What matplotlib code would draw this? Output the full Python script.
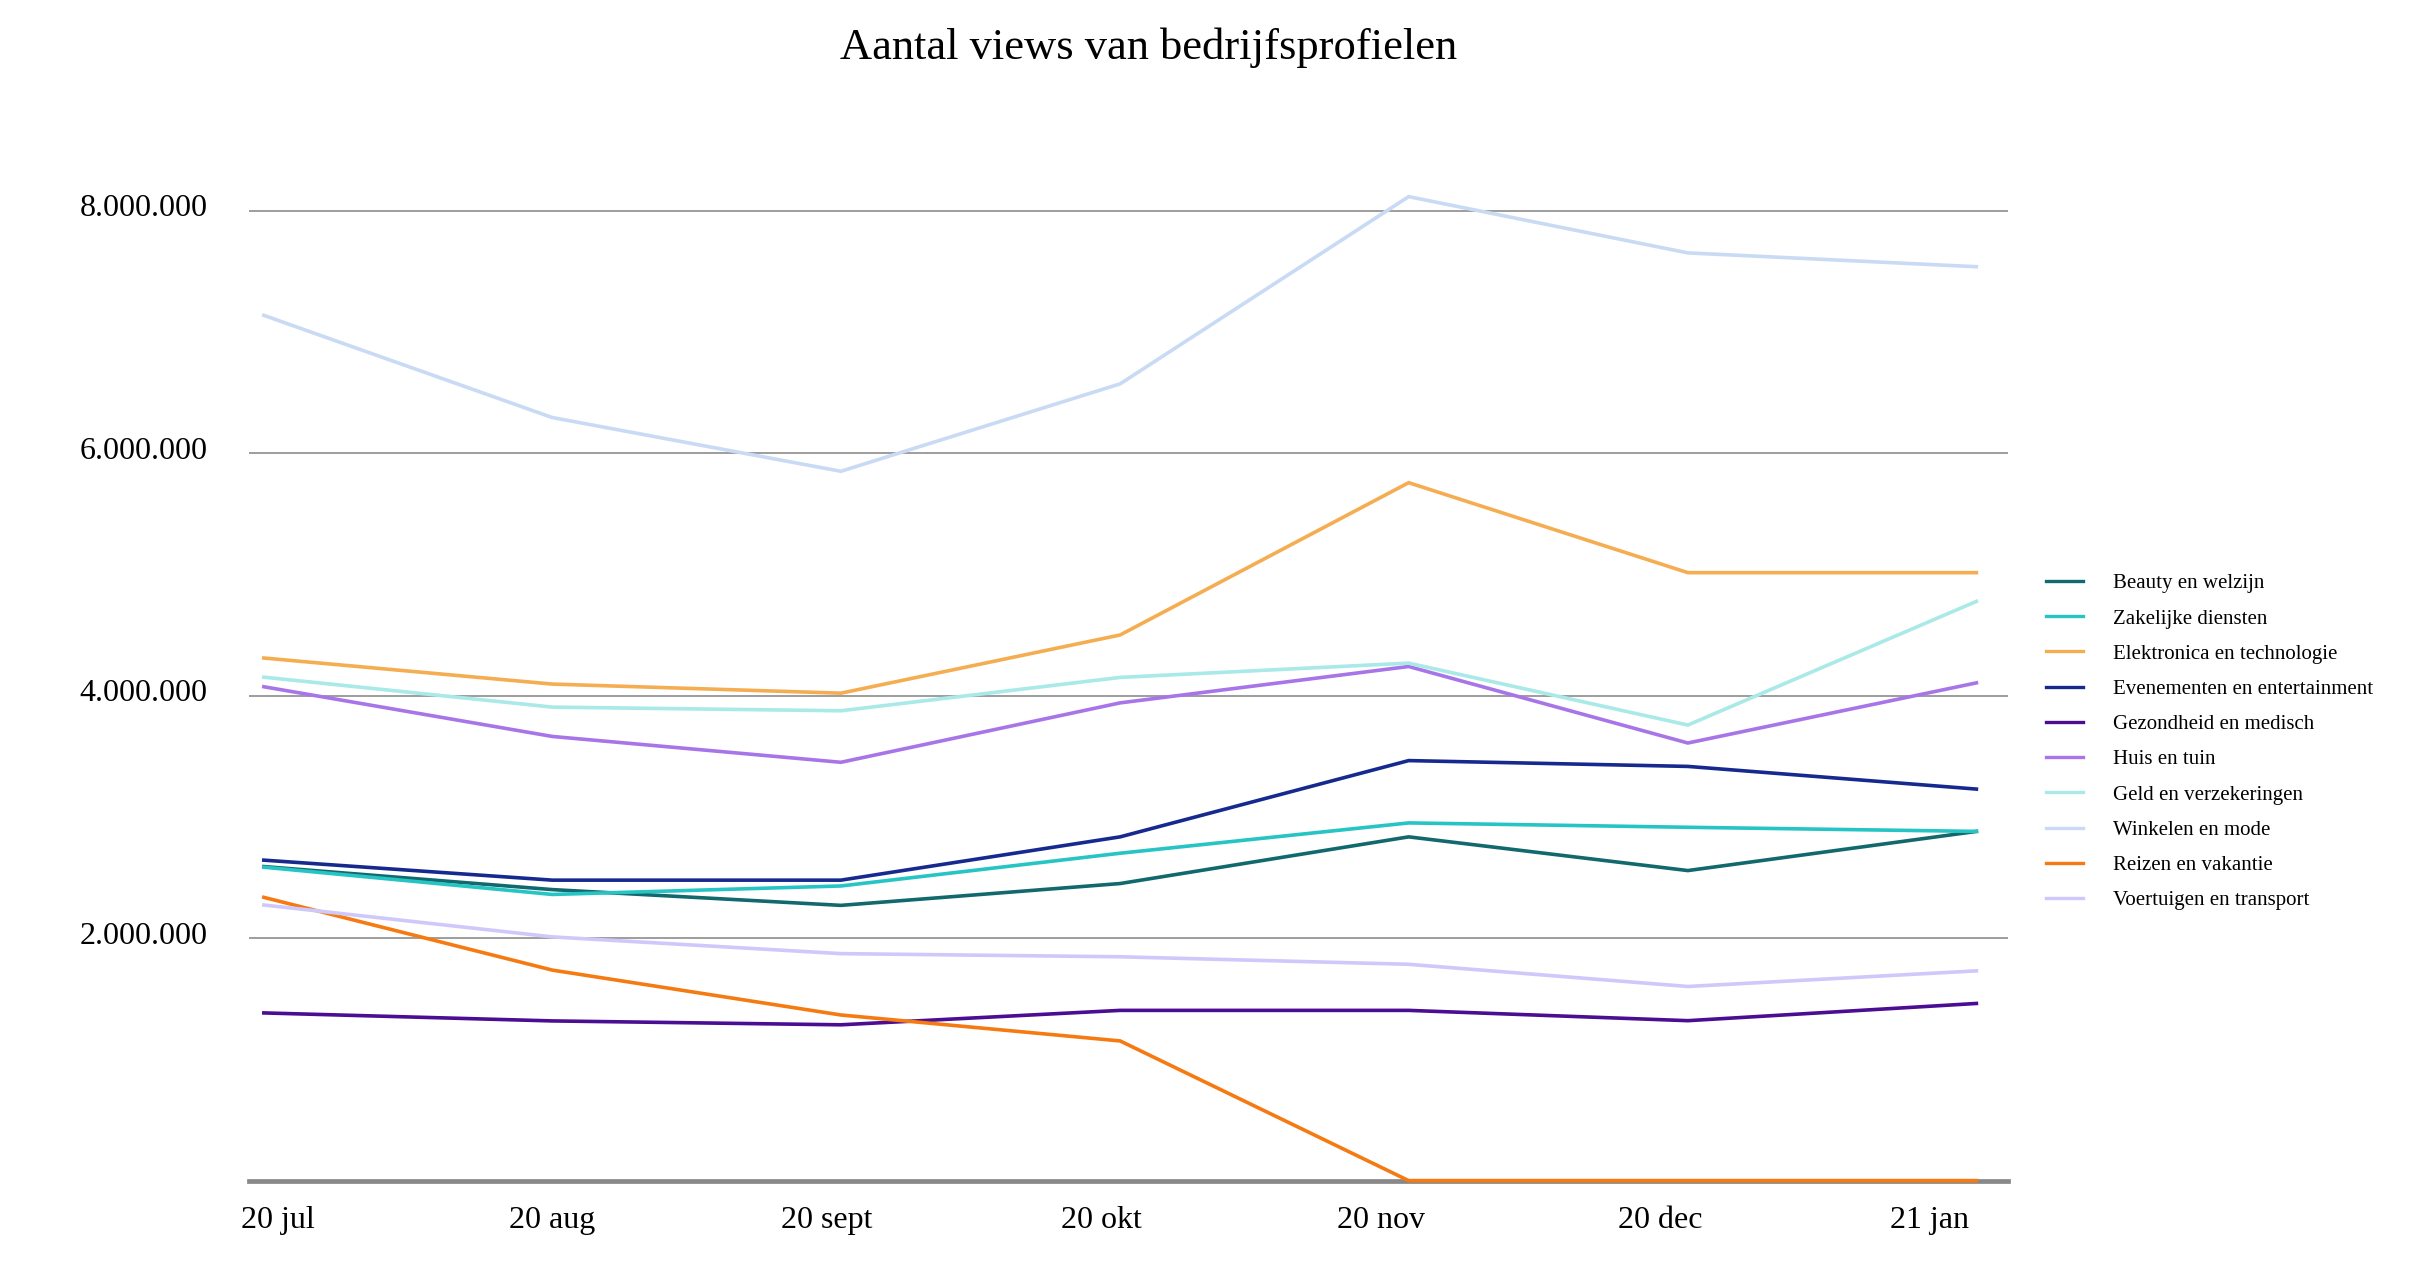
import matplotlib
matplotlib.use("Agg")
import matplotlib.pyplot as plt
from matplotlib.transforms import ScaledTranslation

plt.rcParams['font.family'] = ['Liberation Serif', 'DejaVu Serif']

# dagen sinds 20 jul (datum-as)
days = [0, 31, 62, 92, 123, 153, 184]
month_labels = ['20 jul', '20 aug', '20 sept', '20 okt', '20 nov', '20 dec', '21 jan']
label_days = [1.5, 31, 60.5, 90, 120, 150, 179]

yticks = [2e6, 4e6, 6e6, 8e6]
ytick_labels = ['2.000.000', '4.000.000', '6.000.000', '8.000.000']

beauty = [2.59e6, 2.40e6, 2.27e6, 2.45e6, 2.835e6, 2.557e6, 2.88e6]
zakelijk = [2.585e6, 2.36e6, 2.43e6, 2.70e6, 2.95e6, 2.914e6, 2.88e6]
elektronica = [4.31e6, 4.095e6, 4.02e6, 4.50e6, 5.756e6, 5.014e6, 5.014e6]
evenementen = [2.643e6, 2.478e6, 2.478e6, 2.835e6, 3.464e6, 3.416e6, 3.229e6]
gezondheid = [1.383e6, 1.317e6, 1.285e6, 1.404e6, 1.404e6, 1.319e6, 1.461e6]
huis = [4.073e6, 3.663e6, 3.45e6, 3.94e6, 4.24e6, 3.609e6, 4.105e6]
geld = [4.152e6, 3.905e6, 3.875e6, 4.15e6, 4.268e6, 3.757e6, 4.777e6]
winkelen = [7.136e6, 6.293e6, 5.85e6, 6.571e6, 8.115e6, 7.651e6, 7.537e6]
reizen = [2.336e6, 1.736e6, 1.366e6, 1.152e6, 0, 0, 0]
voertuigen = [2.273e6, 2.01e6, 1.872e6, 1.846e6, 1.784e6, 1.601e6, 1.73e6]

series = [
    ('Beauty en welzijn', beauty, '#11696d'),
    ('Zakelijke diensten', zakelijk, '#26c4c4'),
    ('Elektronica en technologie', elektronica, '#f5ad52'),
    ('Evenementen en entertainment', evenementen, '#16298f'),
    ('Gezondheid en medisch', gezondheid, '#4b0d91'),
    ('Huis en tuin', huis, '#a775e8'),
    ('Geld en verzekeringen', geld, '#a9e9e7'),
    ('Winkelen en mode', winkelen, '#c9daf4'),
    ('Reizen en vakantie', reizen, '#f57a12'),
    ('Voertuigen en transport', voertuigen, '#cfc8fa'),
]

fig = plt.figure(figsize=(24.24, 12.78), dpi=100)
ax = fig.add_axes([0.1027, 0.0762, 0.7257, 0.8539])

for y in yticks:
    ax.axhline(y, color='#8c8c8c', lw=1.2, zorder=1)
ax.axhline(0, color='#888888', lw=3.4, zorder=1, clip_on=False)

for name, vals, col in series:
    ax.plot(days, vals, color=col, lw=2.6, label=name, zorder=2,
            solid_joinstyle='miter', clip_on=False)

ax.set_xlim(-1.6, 187.4)
ax.set_ylim(0, 9e6)
ax.set_yticks(yticks)
ax.set_yticklabels(ytick_labels)
ax.set_xticks(label_days)
ax.set_xticklabels(month_labels)
ax.tick_params(axis='both', length=0, labelsize=23, colors='black')
ax.tick_params(axis='y', pad=30)
ax.tick_params(axis='x', pad=18)
for s in ax.spines.values():
    s.set_visible(False)

shift = ScaledTranslation(0, 4 / 72, fig.dpi_scale_trans)
for lab in ax.get_yticklabels():
    lab.set_transform(lab.get_transform() + shift)

fig.text(0.474, 1 - 48 / 1278, 'Aantal views van bedrijfsprofielen',
         ha='center', va='center', fontsize=32)

leg = ax.legend(loc='center left', bbox_to_anchor=(0.8441, 0.4194),
                bbox_transform=fig.transFigure, frameon=False, fontsize=15,
                handlelength=1.78, handletextpad=1.44, labelspacing=0.75,
                borderpad=0, borderaxespad=0)
for line in leg.get_lines():
    line.set_linewidth(2.4)

fig.savefig('out.png', dpi=100)
